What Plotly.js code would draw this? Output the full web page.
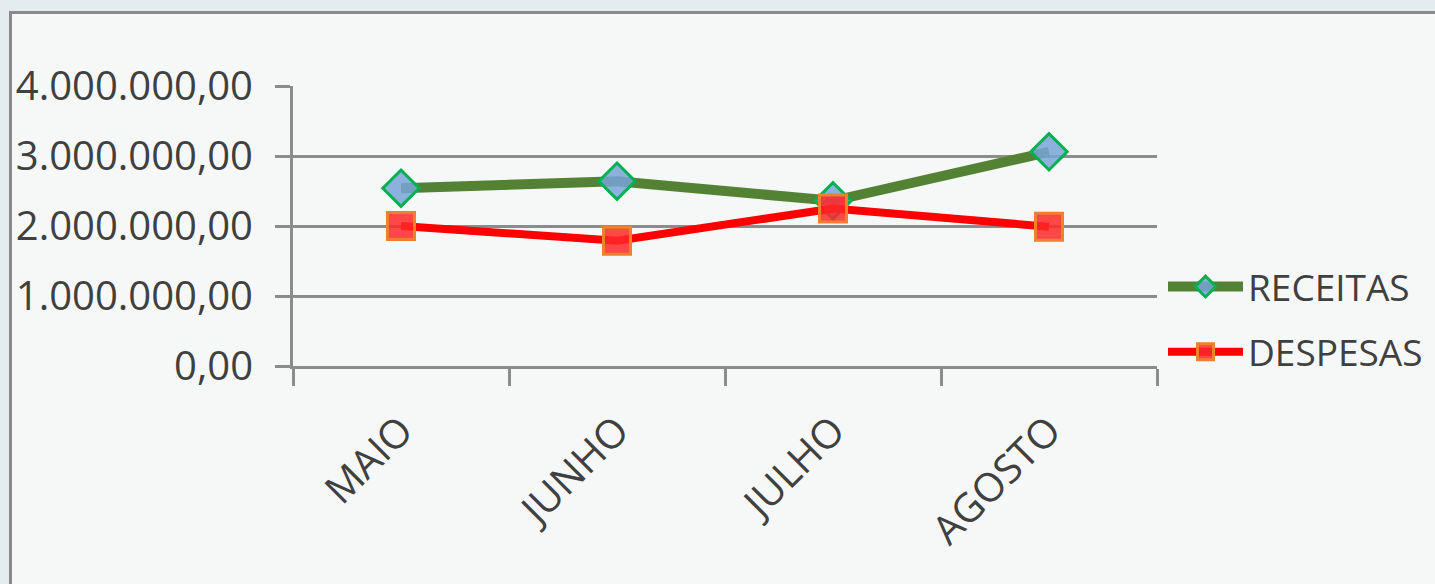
<!DOCTYPE html>
<html>
<head>
<meta charset="utf-8">
<script src="https://cdn.plot.ly/plotly-3.0.1.min.js"></script>
<style>html,body{margin:0;padding:0;background:#e4ecef;}#chart{width:1435px;height:584px;}</style>
</head>
<body>
<div id="chart"></div>
<script>
const categories = ["MAIO", "JUNHO", "JULHO", "AGOSTO"];
const receitas = [2540000, 2640000, 2360000, 3060000];
const despesas = [2000000, 1790000, 2250000, 1990000];
const yTickVals = [0, 1000000, 2000000, 3000000, 4000000];
const yTickText = ["0,00", "1.000.000,00", "2.000.000,00", "3.000.000,00", "4.000.000,00"];

const W = 1435, H = 584;
const L = 293, R = 1157, T = 86, B = 366;
const px = x => (x - L) / (R - L);
const py = y => (B - y) / (B - T);
const FONT = "Open Sans, Noto Sans, sans-serif";
const FS = 40;
const LFS = 37;

const traces = [
  {
    x: categories, y: receitas, name: "RECEITAS", type: "scatter", mode: "lines+markers",
    legendgroup: "a",
    line: {color: "#548235", width: 10},
    marker: {symbol: "diamond", size: 28, color: "rgba(120,165,215,0.85)", line: {color: "#00b050", width: 3}},
    cliponaxis: false
  },
  {
    x: categories, y: despesas, name: "DESPESAS", type: "scatter", mode: "lines+markers",
    legendgroup: "b",
    line: {color: "#ff0000", width: 8},
    marker: {symbol: "square", size: 27, color: "rgba(255,40,40,0.85)", line: {color: "#f07f30", width: 3}},
    cliponaxis: false
  }
];

const layout = {
  width: W, height: H,
  margin: {l: L, r: W - R, t: T, b: H - B, pad: 0, autoexpand: false},
  paper_bgcolor: "#e4ecef",
  plot_bgcolor: "rgba(0,0,0,0)",
  font: {family: FONT, size: FS, color: "#404040"},
  showlegend: true,
  legend: {
    x: px(1163), y: py(256), xanchor: "left", yanchor: "top",
    font: {family: FONT, size: LFS, color: "#404040"},
    bgcolor: "rgba(0,0,0,0)", itemwidth: 75, tracegroupgap: 14, traceorder: "grouped"
  },
  xaxis: {
    type: "category", range: [-0.5, 3.5],
    showgrid: false, zeroline: false,
    showline: true, linecolor: "#8c8c8c", linewidth: 3,
    ticks: "outside", ticklen: 17, tickwidth: 3, tickcolor: "#8c8c8c",
    tickson: "boundaries", tickangle: -45, ticklabelstandoff: 22,
    tickfont: {family: FONT, size: FS, color: "#404040"}
  },
  yaxis: {
    range: [0, 4000000], tickvals: yTickVals, ticktext: yTickText,
    showgrid: true, gridcolor: "#8c8c8c", gridwidth: 3,
    zeroline: false, showline: true, linecolor: "#8c8c8c", linewidth: 3,
    ticks: "outside", ticklen: 15, tickwidth: 3, tickcolor: "#8c8c8c",
    ticklabelstandoff: 14,
    tickfont: {family: FONT, size: FS, color: "#404040"}
  },
  shapes: [
    {type: "rect", xref: "paper", yref: "paper", layer: "below",
     x0: px(10.5), x1: px(1500), y0: py(700), y1: py(12.5),
     fillcolor: "#f6f8f8", line: {color: "#8a8a8a", width: 3}}
  ]
};

Plotly.newPlot("chart", traces, layout, {displayModeBar: false, staticPlot: true});
</script>
</body>
</html>
